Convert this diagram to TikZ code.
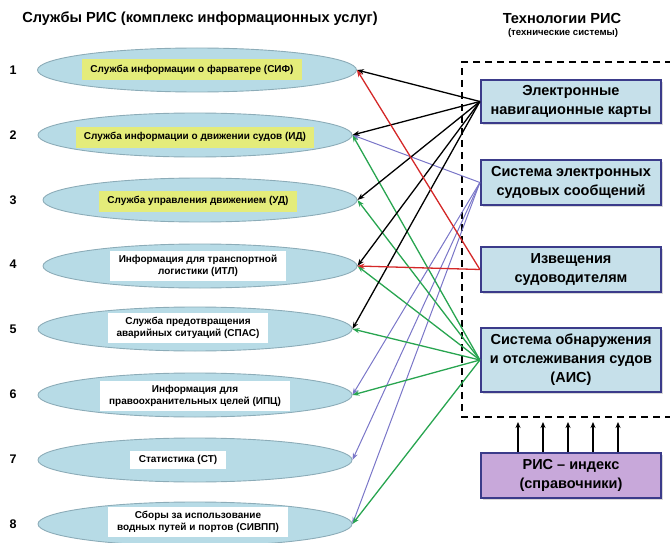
\documentclass[tikz,border=0pt]{standalone}
\usepackage{fontspec}
\setmainfont{Liberation Sans}
\usetikzlibrary{arrows.meta,shadows,calc,shapes.geometric}
\definecolor{ellfill}{RGB}{183,219,230}
\definecolor{elldraw}{RGB}{140,172,184}
\definecolor{lblyellow}{RGB}{228,236,122}
\definecolor{boxfill}{RGB}{198,224,234}
\definecolor{boxdraw}{RGB}{59,59,138}
\definecolor{purplefill}{RGB}{200,168,218}
\definecolor{cred}{RGB}{212,40,40}
\definecolor{cgreen}{RGB}{40,165,80}
\definecolor{cpurple}{RGB}{122,118,200}
\tikzset{
  svc/.style={ellipse, draw=elldraw, line width=0.9pt, fill=ellfill, minimum width=314pt, minimum height=44pt, inner sep=0pt},
  lblY/.style={fill=lblyellow, font=\bfseries\fontsize{10}{12}\selectfont, inner xsep=8pt, inner ysep=4pt, minimum height=21pt},
  lblW/.style={fill=white, font=\bfseries\fontsize{10}{12.5}\selectfont, align=center, inner xsep=9pt, inner ysep=4pt},
  num/.style={font=\bfseries\fontsize{12.5}{14}\selectfont},
  tech/.style={draw=boxdraw, line width=2.2pt, fill=boxfill, minimum width=180pt, align=center, font=\bfseries\fontsize{14.5}{19}\selectfont, inner sep=2pt, drop shadow={shadow xshift=2pt, shadow yshift=-2pt, opacity=0.3}},
  conn/.style={line width=1.3pt, -{Stealth[length=7pt,width=5pt]}},
  uparrow/.style={line width=1.4pt, -{Stealth[length=6pt,width=5pt]}},
}
\begin{document}
\begin{tikzpicture}[x=1pt,y=-1pt]
\useasboundingbox (0,0) rectangle (670,543);
% titles
\node[font=\bfseries\fontsize{14.6}{16}\selectfont] (tl) at (200,19) {Службы РИС (комплекс информационных услуг)};
\node[font=\bfseries\fontsize{14.6}{16}\selectfont] (tr) at (562,18) {Технологии РИС};
\node[font=\bfseries\fontsize{9.6}{11}\selectfont] (trs) at (563,33) {(технические системы)};
% ellipses
\node[svc, minimum width=319pt] (e1) at (197,70) {};
\node[svc] (e2) at (195,135) {};
\node[svc] (e3) at (200,200) {};
\node[svc] (e4) at (200,266) {};
\node[svc] (e5) at (195,329) {};
\node[svc] (e6) at (195,395) {};
\node[svc] (e7) at (195,460) {};
\node[svc] (e8) at (195,524) {};
% numbers
\foreach \i/\y in {1/70,2/135,3/200,4/264,5/329,6/394,7/459,8/524}
  \node[num] (n\i) at (13,\y) {\i};
% labels
\node[lblY] (l1) at (192,70) {Служба информации о фарватере (СИФ)};
\node[lblY] (l2) at (195,137) {Служба информации о движении судов (ИД)};
\node[lblY] (l3) at (198,201) {Служба управления движением (УД)};
\node[lblW] (l4) at (198,266) {Информация для транспортной\\логистики (ИТЛ)};
\node[lblW] (l5) at (188,328) {Служба предотвращения\\аварийных ситуаций (СПАС)};
\node[lblW] (l6) at (195,396) {Информация для\\правоохранительных целей (ИПЦ)};
\node[lblW] (l7) at (178,460) {Статистика (СТ)};
\node[lblW] (l8) at (198,522) {Сборы за использование\\водных путей и портов (СИВПП)};
% dashed frame
\coordinate (dtr) at (672,62);
\coordinate (dtl) at (462,62);
\coordinate (dbl) at (462,417);
\coordinate (dbr) at (672,417);
\draw[line width=1.6pt, dash pattern=on 7pt off 5pt] (dtr) -- (dtl) -- (dbl) -- (dbr);
% tech boxes
\node[tech, minimum height=43pt] (t1) at (571,101.5) {Электронные\\навигационные карты};
\node[tech, minimum height=45pt] (t2) at (571,182.5) {Система электронных\\судовых сообщений};
\node[tech, minimum height=45pt] (t3) at (571,269.5) {Извещения\\судоводителям};
\node[tech, minimum height=64pt] (t4) at (571,360) {Система обнаружения\\и отслеживания судов\\(АИС)};
\node[tech, minimum height=45pt, fill=purplefill] (t5) at (571,475.5) {РИС – индекс\\(справочники)};
% up arrows
\foreach \d in {-53,-28,-3,22,47}
  \draw[uparrow] ([xshift=\d pt]t5.north) -- ([xshift=\d pt, yshift=-5pt]t5.north |- dbl);
% purple connectors
\foreach \e in {e2,e6,e7,e8}
  \draw[conn, cpurple, line width=1pt] (t2.west) -- (\e.east);
% green connectors
\foreach \e in {e2,e3,e4,e5,e6,e8}
  \draw[conn, cgreen] (t4.west) -- (\e.east);
% black connectors
\foreach \e in {e1,e2,e3,e4,e5}
  \draw[conn, black] (t1.west) -- (\e.east);
% red connectors
\foreach \e in {e1,e4}
  \draw[conn, cred] (t3.west) -- (\e.east);
\end{tikzpicture}
\end{document}
